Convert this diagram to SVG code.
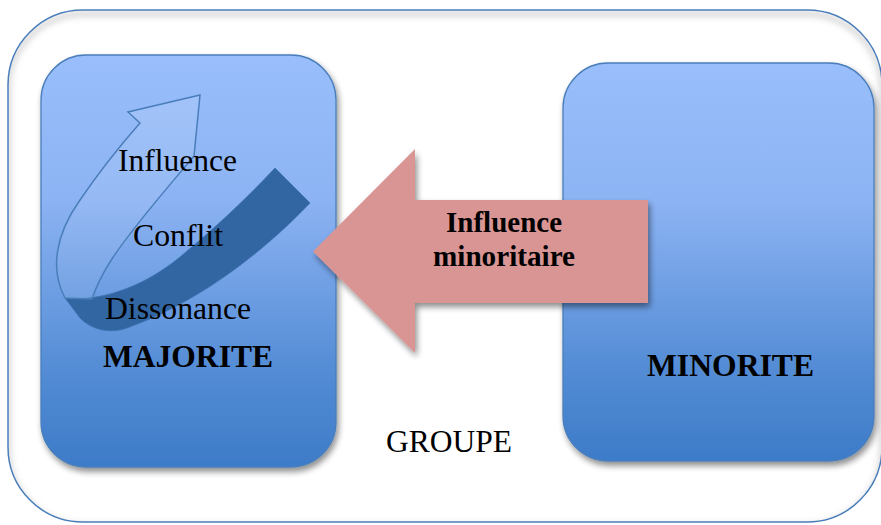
<svg xmlns="http://www.w3.org/2000/svg" width="881" height="525" viewBox="0 0 881 525">
  <defs>
    <linearGradient id="boxGrad" x1="0" y1="0" x2="0" y2="1">
      <stop offset="0" stop-color="#99BEFB"/>
      <stop offset="0.35" stop-color="#8CB3F3"/>
      <stop offset="0.78" stop-color="#528BD4"/>
      <stop offset="1" stop-color="#3D7BC8"/>
    </linearGradient>
    <linearGradient id="ribbonLight" x1="0" y1="0" x2="0" y2="1">
      <stop offset="0" stop-color="#FFFFFF" stop-opacity="0.12"/>
      <stop offset="1" stop-color="#FFFFFF" stop-opacity="0.05"/>
    </linearGradient>
    <filter id="shadow" x="-10%" y="-10%" width="125%" height="125%">
      <feGaussianBlur in="SourceAlpha" stdDeviation="3"/>
      <feOffset dx="2" dy="4" result="b"/>
      <feComponentTransfer><feFuncA type="linear" slope="0.45"/></feComponentTransfer>
      <feMerge><feMergeNode/><feMergeNode in="SourceGraphic"/></feMerge>
    </filter>
    <filter id="innerBlur" x="-5%" y="-5%" width="110%" height="110%">
      <feGaussianBlur stdDeviation="3"/>
    </filter>
    <clipPath id="outerClip">
      <rect x="8" y="10" width="874" height="512" rx="75" ry="75"/>
    </clipPath>
    <style>
      .box { fill: url(#boxGrad); stroke: #4A7EBB; stroke-width: 1.3; }
      .serif { font-family: "Liberation Serif", "Times New Roman", serif; fill: #000; }
      .reg { font-size: 32px; }
      .bold { font-weight: bold; }
    </style>
  </defs>

  <g id="groupe">
    <rect x="8" y="10" width="874" height="512" rx="75" ry="75" fill="#FFFFFF"/>
    <g clip-path="url(#outerClip)">
      <rect x="8" y="14" width="874" height="512" rx="75" ry="75" fill="none" stroke="#9A9A9A" stroke-width="5" stroke-opacity="0.45" filter="url(#innerBlur)"/>
    </g>
    <rect x="8" y="10" width="874" height="512" rx="75" ry="75" fill="none" stroke="#4A7EBB" stroke-width="1.5"/>
    <text class="serif reg" x="386" y="452" textLength="126" lengthAdjust="spacingAndGlyphs">GROUPE</text>
  </g>

  <g id="majorite">
    <rect class="box" x="41" y="55" width="295" height="412" rx="45" ry="45" filter="url(#shadow)"/>
    <g id="cycle">
      <path d="M275,168 L310,203 C270,245 205,300 127,328 C110,334 92,330 80,318 L65,298 C95,302 140,290 180,257 C215,228 245,200 275,168 Z" fill="#3266A3" stroke="#3C71B0" stroke-width="0.8"/>
      <path d="M65,298 C50,270 55,235 80,200 C95,178 118,148 140,123 L128,112 L200,95 L194,156 C170,185 130,230 110,262 C100,278 95,290 92,299 Z" fill="url(#ribbonLight)" stroke="#4A7EBB" stroke-width="1.5" stroke-linejoin="miter"/>
    </g>
    <text class="serif reg" x="118" y="171" textLength="119" lengthAdjust="spacingAndGlyphs">Influence</text>
    <text class="serif reg" x="133" y="246" textLength="90" lengthAdjust="spacingAndGlyphs">Conflit</text>
    <text class="serif reg" x="105" y="319" textLength="146" lengthAdjust="spacingAndGlyphs">Dissonance</text>
    <text class="serif bold" x="103" y="367" font-size="31.5" textLength="170" lengthAdjust="spacingAndGlyphs">MAJORITE</text>
  </g>

  <g id="minorite">
    <rect class="box" x="563" y="63" width="311" height="398" rx="45" ry="45" filter="url(#shadow)"/>
    <text class="serif bold" x="647" y="376" font-size="31.5" textLength="167" lengthAdjust="spacingAndGlyphs">MINORITE</text>
  </g>

  <g id="connectors">
    <g id="influence-minoritaire">
      <polygon points="313,251.5 415,149 415,200 648,200 648,303 415,303 415,353" fill="#D99594" filter="url(#shadow)"/>
      <text class="serif bold" x="446" y="232" font-size="29" textLength="116" lengthAdjust="spacingAndGlyphs">Influence</text>
      <text class="serif bold" x="433" y="266" font-size="29" textLength="142" lengthAdjust="spacingAndGlyphs">minoritaire</text>
    </g>
  </g>
</svg>
